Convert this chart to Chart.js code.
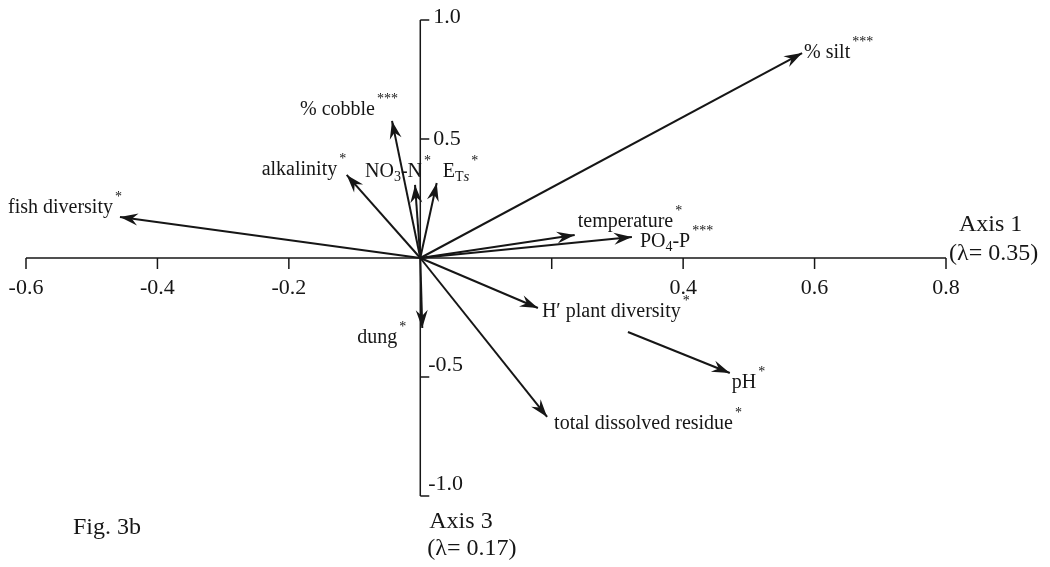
<!DOCTYPE html>
<html>
<head>
<meta charset="utf-8">
<script src="https://cdn.jsdelivr.net/npm/chart.js@4.4.1/dist/chart.umd.min.js"></script>
<style>
  body { margin: 0; background: #fff; }
</style>
</head>
<body>
<canvas id="biplot" width="1050" height="567"></canvas>
<script>
// Variable names ({} = subscript, [] = italic subscript)
const varNames = ['% silt', '% cobble', 'alkalinity', 'NO{3}-N', 'E{T}[s]', 'fish diversity',
    'temperature', 'PO{4}-P', 'dung', 'H\u2032 plant diversity', 'total dissolved residue', 'pH'];
const signif = ['***', '***', '*', '*', '*', '*', '*', '***', '*', '*', '*', '*'];

// Arrow ends (Axis 1, Axis 3); pH arrow is drawn as a broken segment
const axis1Start = [0, 0, 0, 0, 0, 0, 0, 0, 0, 0, 0, 0.316];
const axis3Start = [0, 0, 0, 0, 0, 0, 0, 0, 0, 0, 0, -0.311];
const axis1End = [0.581, -0.043, -0.112, -0.008, 0.025, -0.457, 0.235, 0.322, 0.003, 0.179, 0.193, 0.471];
const axis3End = [0.861, 0.576, 0.349, 0.307, 0.315, 0.172, 0.097, 0.088, -0.294, -0.210, -0.668, -0.483];

// Tick labels
const xTickValues = [-0.6, -0.4, -0.2, 0.2, 0.4, 0.6, 0.8];
const xTickLabels = ['-0.6', '-0.4', '-0.2', '', '0.4', '0.6', '0.8'];
const yTickValues = [1.0, 0.5, -0.5, -1.0];
const yTickLabels = ['1.0', '0.5', '-0.5', '-1.0'];

// label placement relative to the arrow tip (px)
const labelOffsets = [[2, 0], [-92, -11], [-85, -5], [-50, -13], [6, -11], [-112, -9],
    [3, -13], [8, 5], [-65, 10], [4, 4], [7, 7], [2, 10]];

const FONT = '"Liberation Serif", "DejaVu Serif", serif';
const INK = '#161616';

const datasets = varNames.map((name, i) => ({
    label: name,
    data: [{ x: axis1Start[i], y: axis3Start[i] }, { x: axis1End[i], y: axis3End[i] }],
    showLine: true,
    borderColor: INK,
    borderWidth: 2,
    pointRadius: 0
}));

// draw text with subscripts, returns width
function richText(ctx, str, x, y) {
    const re = /\{([^}]*)\}|\[([^\]]*)\]|([^{\[]+)/g;
    let m;
    let cx = x;
    while ((m = re.exec(str)) !== null) {
        if (m[1] !== undefined) {
            ctx.font = '14px ' + FONT;
            ctx.fillText(m[1], cx, y + 5);
            cx += ctx.measureText(m[1]).width;
        } else if (m[2] !== undefined) {
            ctx.font = 'italic 15px ' + FONT;
            ctx.fillText(m[2], cx, y + 5);
            cx += ctx.measureText(m[2]).width;
        } else {
            ctx.font = '20px ' + FONT;
            ctx.fillText(m[3], cx, y);
            cx += ctx.measureText(m[3]).width;
        }
    }
    return cx - x;
}

const axesPlugin = {
    id: 'crossAxes',
    beforeDatasetsDraw(chart) {
        const { ctx, scales: { x, y } } = chart;
        const x0 = x.getPixelForValue(0);
        const y0 = y.getPixelForValue(0);
        ctx.save();
        ctx.strokeStyle = INK;
        ctx.fillStyle = INK;
        ctx.lineWidth = 1.5;

        // horizontal axis
        ctx.beginPath();
        ctx.moveTo(x.getPixelForValue(-0.6), y0);
        ctx.lineTo(x.getPixelForValue(0.8), y0);
        ctx.stroke();
        ctx.font = '22px ' + FONT;
        ctx.textAlign = 'center';
        ctx.textBaseline = 'middle';
        xTickValues.forEach((v, i) => {
            const px = x.getPixelForValue(v);
            ctx.beginPath();
            ctx.moveTo(px, y0);
            ctx.lineTo(px, y0 + 11);
            ctx.stroke();
            ctx.fillText(xTickLabels[i], px, y0 + 30);
        });

        // vertical axis
        ctx.beginPath();
        ctx.moveTo(x0, y.getPixelForValue(1));
        ctx.lineTo(x0, y.getPixelForValue(-1));
        ctx.stroke();
        ctx.textAlign = 'left';
        yTickValues.forEach((v, i) => {
            const py = y.getPixelForValue(v);
            ctx.beginPath();
            ctx.moveTo(x0, py);
            ctx.lineTo(x0 + 9, py);
            ctx.stroke();
            const ly = v < 0 ? py - 12 : py - (v === 1 ? 3 : 0);
            ctx.fillText(yTickLabels[i], x0 + (v < 0 ? 8 : 13), ly);
        });
        ctx.restore();
    },
    afterDatasetsDraw(chart) {
        const { ctx } = chart;
        ctx.save();
        ctx.fillStyle = INK;
        ctx.textBaseline = 'middle';
        ctx.textAlign = 'left';
        chart.data.datasets.forEach((ds, i) => {
            const pts = chart.getDatasetMeta(i).data;
            const a = pts[0], b = pts[1];
            const dx = b.x - a.x, dy = b.y - a.y;
            const len = Math.hypot(dx, dy);
            const ux = dx / len, uy = dy / len;
            const nx = -uy, ny = ux;
            const L = 18, W = 6, notch = 6;
            ctx.beginPath();
            ctx.moveTo(b.x, b.y);
            ctx.lineTo(b.x - L * ux + W * nx, b.y - L * uy + W * ny);
            ctx.lineTo(b.x - (L - notch) * ux, b.y - (L - notch) * uy);
            ctx.lineTo(b.x - L * ux - W * nx, b.y - L * uy - W * ny);
            ctx.closePath();
            ctx.fill();

            // label + significance stars
            const tx = b.x + labelOffsets[i][0];
            const ty = b.y + labelOffsets[i][1];
            const w = richText(ctx, varNames[i], tx, ty);
            ctx.font = '14px ' + FONT;
            ctx.fillText(signif[i], tx + w + 2, ty - 11);
        });

        // axis titles and figure tag
        const { x, y } = chart.scales;
        const xEnd = x.getPixelForValue(0.8);
        const y0 = y.getPixelForValue(0);
        const x0 = x.getPixelForValue(0);
        const yBot = y.getPixelForValue(-1);
        ctx.font = '24px ' + FONT;
        ctx.fillText('Axis 1', xEnd + 13, y0 - 33);
        ctx.fillText('(\u03bb= 0.35)', xEnd + 3, y0 - 4);
        ctx.fillText('Axis 3', x0 + 9, yBot + 26);
        ctx.fillText('(\u03bb= 0.17)', x0 + 7, yBot + 53);
        ctx.fillText('Fig. 3b', 73, yBot + 32);
        ctx.restore();
    }
};

new Chart(document.getElementById('biplot'), {
    type: 'scatter',
    data: { datasets },
    options: {
        responsive: false,
        animation: false,
        layout: { padding: { left: 26, right: 104, top: 20, bottom: 71 } },
        plugins: { legend: { display: false }, tooltip: { enabled: false } },
        scales: {
            x: { type: 'linear', min: -0.6, max: 0.8, display: false },
            y: { type: 'linear', min: -1, max: 1, display: false }
        }
    },
    plugins: [axesPlugin]
});
</script>
</body>
</html>
